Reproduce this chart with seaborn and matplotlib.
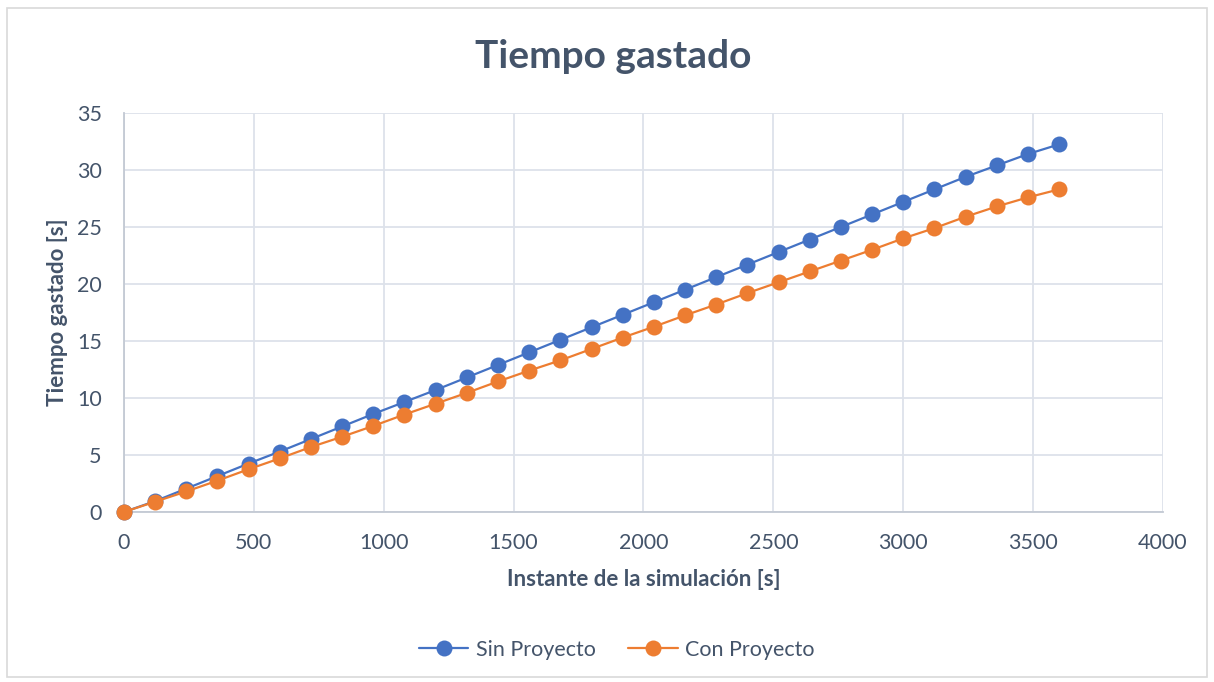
import numpy as np
import pandas as pd
import matplotlib
matplotlib.use("Agg")
import matplotlib.pyplot as plt
import seaborn as sns
from matplotlib.patches import Rectangle

# Simulation instants [s]
instantes = list(range(0, 3601, 120))

# Elapsed time without the project [s]
sin_proyecto = [0, 0.95, 2.05, 3.15, 4.25, 5.3, 6.4, 7.5, 8.6, 9.65, 10.7,
                11.8, 12.9, 14.0, 15.1, 16.2, 17.3, 18.4, 19.5, 20.6, 21.7,
                22.8, 23.9, 25.0, 26.1, 27.2, 28.3, 29.4, 30.4, 31.4, 32.25]

# Elapsed time with the project [s]
con_proyecto = [0, 0.9, 1.8, 2.75, 3.75, 4.7, 5.7, 6.6, 7.55, 8.55, 9.5,
                10.45, 11.45, 12.4, 13.3, 14.3, 15.3, 16.25, 17.25, 18.2, 19.2,
                20.15, 21.1, 22.05, 23.0, 24.0, 24.9, 25.9, 26.8, 27.6, 28.3]

series = ["Sin Proyecto", "Con Proyecto"]
colores = {"Sin Proyecto": "#4472C4", "Con Proyecto": "#ED7D31"}

df = pd.DataFrame({
    "Instante": instantes * 2,
    "Tiempo": sin_proyecto + con_proyecto,
    "Serie": [series[0]] * len(instantes) + [series[1]] * len(instantes),
})

sns.set_theme(style="white")
plt.rcParams["font.family"] = ["Lato", "DejaVu Sans"]
texto = "#44546A"

fig = plt.figure(figsize=(12.14, 6.82), dpi=100)
ax = fig.add_axes([0.1021, 0.2493, 0.8559, 0.585])

sns.lineplot(data=df, x="Instante", y="Tiempo", hue="Serie", hue_order=series,
             palette=colores, marker="o", markersize=11.5, markeredgewidth=0,
             linewidth=1.6, ax=ax, legend=True, zorder=3, clip_on=False)

ax.set_xlim(0, 4000)
ax.set_ylim(0, 35)
ax.set_xticks(np.arange(0, 4001, 500))
ax.set_yticks(np.arange(0, 36, 5))
ax.grid(True, color="#DDE2EA", linewidth=1.3)
ax.set_axisbelow(True)
for side in ["top", "right"]:
    ax.spines[side].set_visible(False)
for side in ["left", "bottom"]:
    ax.spines[side].set_color("#C3C9D3")
    ax.spines[side].set_linewidth(1.3)
ax.tick_params(axis="x", length=0, labelsize=15.5, labelcolor=texto, pad=15)
ax.tick_params(axis="y", length=0, labelsize=15.5, labelcolor=texto, pad=16)

ax.set_xlabel("Instante de la simulación [s]", fontsize=16, fontweight="bold",
              color=texto, labelpad=12)
ax.set_ylabel("Tiempo gastado [s]", fontsize=16, fontweight="bold",
              color=texto, labelpad=6)

fig.text(0.505, 0.917, "Tiempo gastado", ha="center", va="center",
         fontsize=28, fontweight="bold", color=texto)

handles, labels = ax.get_legend_handles_labels()
ax.legend_.remove()
fig.legend(handles, labels, loc="center", bbox_to_anchor=(0.508, 0.047),
           ncol=2, frameon=False, fontsize=15.5, handlelength=2.3,
           columnspacing=1.5, handletextpad=0.35, labelcolor=texto)

# Chart area border
fig.patches.append(Rectangle((0.006, 0.008), 0.988, 0.98, transform=fig.transFigure,
                             fill=False, edgecolor="#D9D9D9", linewidth=1.2))

fig.savefig("out.png", dpi=100, facecolor="white")
